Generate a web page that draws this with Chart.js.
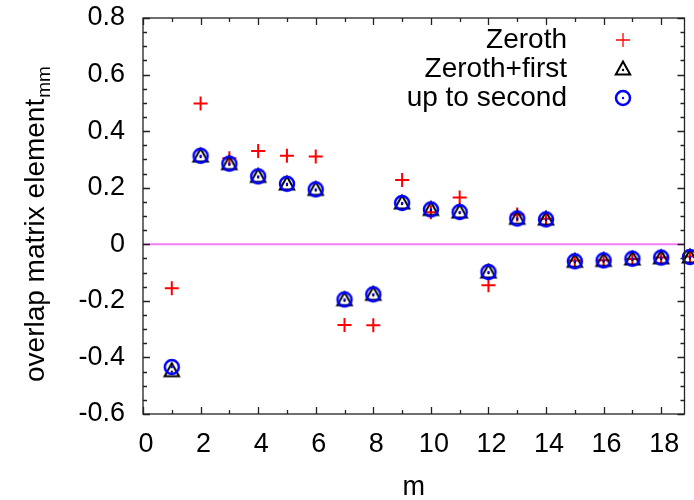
<!DOCTYPE html>
<html>
<head>
<meta charset="utf-8">
<script src="https://cdn.jsdelivr.net/npm/chart.js@4/dist/chart.umd.min.js"></script>
<style>
  body { margin: 0; background: #fff; }
  #wrap { width: 694px; height: 500px; }
</style>
</head>
<body>
<div id="wrap"><canvas id="overlapChart" width="694" height="500"></canvas></div>
<script>
// data
var mValues = [1, 2, 3, 4, 5, 6, 7, 8, 9, 10, 11, 12, 13, 14, 15, 16, 17, 18, 19];
var zeroth = [-0.155, 0.498, 0.304, 0.33, 0.313, 0.31, -0.285, -0.286, 0.227, 0.113, 0.165, -0.145, 0.105, 0.09, -0.057, -0.056, -0.052, -0.047, -0.043];
var zerothFirst = [-0.447, 0.312, 0.285, 0.24, 0.213, 0.194, -0.196, -0.177, 0.146, 0.123, 0.114, -0.098, 0.092, 0.089, -0.06, -0.057, -0.052, -0.048, -0.045];
var upToSecond = [-0.434, 0.313, 0.285, 0.24, 0.214, 0.194, -0.195, -0.177, 0.146, 0.123, 0.114, -0.098, 0.091, 0.088, -0.06, -0.057, -0.051, -0.047, -0.045];
var seriesLabels = ["Zeroth", "Zeroth+first", "up to second"];
var xTickValues = [0, 2, 4, 6, 8, 10, 12, 14, 16, 18];
var xMin = 0, xMax = 18.81;
var yMin = -0.6, yMax = 0.8;
var yTitle = "overlap matrix element";
var yTitleSub = "mm";
var xTitle = "m";

var FONT = "'Liberation Sans', Arial, Helvetica, sans-serif";

function toPoints(ys) {
    var pts = [];
    for (var i = 0; i < mValues.length; i++) {
        pts.push({ x: mValues[i], y: ys[i] });
    }
    return pts;
}

// gnuplot style symbols with the little dot in the middle
function makeCircle() {
    var c = document.createElement("canvas");
    c.width = 20; c.height = 20;
    var g = c.getContext("2d");
    g.strokeStyle = "#0000ff";
    g.lineWidth = 2.5;
    g.beginPath();
    g.arc(10, 10, 7, 0, Math.PI * 2);
    g.stroke();
    g.fillStyle = "#0000ff";
    g.beginPath();
    g.arc(10, 10, 1.2, 0, Math.PI * 2);
    g.fill();
    return c;
}
function makeTriangle() {
    var c = document.createElement("canvas");
    c.width = 22; c.height = 22;
    var g = c.getContext("2d");
    g.strokeStyle = "#000";
    g.lineWidth = 2;
    g.lineJoin = "miter";
    g.beginPath();
    g.moveTo(11, 3.5);
    g.lineTo(3.8, 16.5);
    g.lineTo(18.2, 16.5);
    g.closePath();
    g.stroke();
    g.fillStyle = "#000";
    g.beginPath();
    g.arc(11, 12, 1.2, 0, Math.PI * 2);
    g.fill();
    return c;
}
var circleImg = makeCircle();
var triangleImg = makeTriangle();

// frame, inward ticks, legend and axis titles
var gnuplotDecor = {
    id: "gnuplotDecor",
    afterDraw: function (chart) {
        var ctx = chart.ctx;
        var a = chart.chartArea;
        var xs = chart.scales.x, ys = chart.scales.y;
        ctx.save();
        ctx.strokeStyle = "#222";
        ctx.lineWidth = 1.3;
        ctx.strokeRect(a.left, a.top, a.right - a.left, a.bottom - a.top);
        ctx.beginPath();
        for (var v = 0; v <= xMax; v += 1) {
            var px = Math.round(xs.getPixelForValue(v)) + 0.5;
            var len = (v % 2 === 0) ? 7 : 4;
            ctx.moveTo(px, a.bottom); ctx.lineTo(px, a.bottom - len);
            ctx.moveTo(px, a.top); ctx.lineTo(px, a.top + len);
        }
        for (var k = 0; k <= 28; k++) {
            var val = yMin + k * 0.05;
            var py = Math.round(ys.getPixelForValue(val)) + 0.5;
            var l2 = (k % 4 === 0) ? 7 : 4;
            ctx.moveTo(a.left, py); ctx.lineTo(a.left + l2, py);
            ctx.moveTo(a.right, py); ctx.lineTo(a.right - l2, py);
        }
        ctx.stroke();

        // legend
        var rows = [40, 69, 98];
        var sets = chart.data.datasets;
        ctx.font = "28px " + FONT;
        ctx.textAlign = "right";
        ctx.textBaseline = "middle";
        for (var i = 0; i < seriesLabels.length; i++) {
            var ds = sets[i];
            ctx.fillStyle = "#000";
            ctx.fillText(seriesLabels[i], 567, rows[i]);
            ctx.strokeStyle = ds.borderColor;
            ctx.fillStyle = ds.borderColor;
            Chart.helpers.drawPoint(ctx, {
                pointStyle: ds.pointStyle,
                radius: ds.pointRadius,
                rotation: 0,
                borderWidth: ds.borderWidth
            }, 623, rows[i]);
        }

        // x title
        ctx.fillStyle = "#000";
        ctx.font = "27px " + FONT;
        ctx.textAlign = "center";
        ctx.textBaseline = "alphabetic";
        ctx.fillText(xTitle, (a.left + a.right) / 2, 495);

        // y title with subscript
        ctx.save();
        ctx.translate(44, 382);
        ctx.rotate(-Math.PI / 2);
        ctx.textAlign = "left";
        ctx.font = "28px " + FONT;
        ctx.fillText(yTitle, 0, 0);
        var w = ctx.measureText(yTitle).width;
        ctx.font = "19px " + FONT;
        ctx.fillText(yTitleSub, w + 1, 6);
        ctx.restore();
        ctx.restore();
    }
};

var chart = new Chart(document.getElementById("overlapChart").getContext("2d"), {
    type: "scatter",
    data: {
        datasets: [{
            label: seriesLabels[0],
            data: toPoints(zeroth),
            pointStyle: "cross",
            pointRadius: 7,
            borderColor: "#ff0000",
            backgroundColor: "#ff0000",
            borderWidth: 2,
            order: 3
        }, {
            label: seriesLabels[1],
            data: toPoints(zerothFirst),
            pointStyle: triangleImg,
            pointRadius: 7,
            borderColor: "#000000",
            backgroundColor: "#000000",
            borderWidth: 2,
            order: 2
        }, {
            label: seriesLabels[2],
            data: toPoints(upToSecond),
            pointStyle: circleImg,
            pointRadius: 7,
            borderColor: "#0000ff",
            backgroundColor: "#0000ff",
            borderWidth: 2.5,
            order: 1
        }, {
            label: "zero",
            type: "line",
            data: [{ x: xMin, y: 0 }, { x: xMax, y: 0 }],
            borderColor: "#f47ef4",
            borderWidth: 2,
            pointRadius: 0,
            order: 4
        }]
    },
    options: {
        responsive: false,
        animation: false,
        clip: false,
        layout: { padding: { top: 18, right: 1, left: 0, bottom: 0 } },
        plugins: {
            legend: { display: false },
            tooltip: { enabled: false }
        },
        scales: {
            x: {
                type: "linear",
                min: xMin,
                max: xMax,
                grid: { display: false, drawTicks: false },
                border: { display: false },
                ticks: {
                    padding: 14,
                    labelOffset: 3,
                    color: "#000",
                    font: { family: FONT, size: 27 }
                },
                afterBuildTicks: function (scale) {
                    scale.ticks = xTickValues.map(function (v) { return { value: v }; });
                },
                afterFit: function (scale) {
                    scale.height = 86;
                    scale.paddingLeft = 0;
                    scale.paddingRight = 0;
                }
            },
            y: {
                min: yMin,
                max: yMax,
                grid: { display: false, drawTicks: false },
                border: { display: false },
                ticks: {
                    stepSize: 0.2,
                    padding: 18,
                    color: "#000",
                    font: { family: FONT, size: 27 }
                },
                afterFit: function (scale) {
                    scale.width = 143;
                    scale.paddingTop = 0;
                    scale.paddingBottom = 0;
                }
            }
        }
    },
    plugins: [gnuplotDecor]
});
</script>
</body>
</html>
